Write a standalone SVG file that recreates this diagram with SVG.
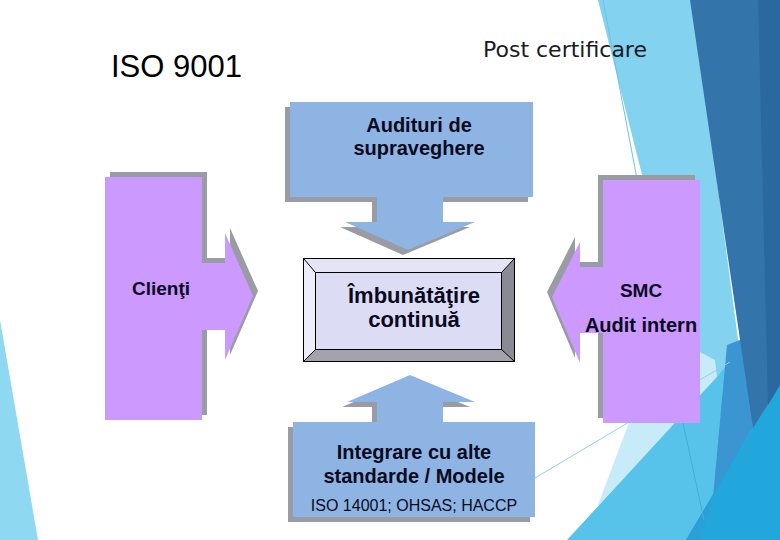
<svg xmlns="http://www.w3.org/2000/svg" width="780" height="540" viewBox="0 0 780 540">
<defs>
<style>
.lbl{font-family:"Liberation Sans",Arial,sans-serif;font-weight:bold;fill:#0a0a1e;text-anchor:middle}
.shadow{fill:#999ca4}
.blue{fill:#8eb4e3}
.purple{fill:#cc99ff}
.edge{stroke:#000;stroke-width:1;fill:none}
</style>
</defs>
<rect width="780" height="540" fill="#ffffff"/>
<g id="background">
<polygon points="0,320 38,540 0,540" fill="#8ed8f2"/>
<polygon points="598,0 693,0 750,430 705,425" fill="#82d2f0"/>
<line x1="603" y1="0" x2="660" y2="300" stroke="#6cc4e8" stroke-width="1"/>
<polygon points="598,505 628,425 700,352 715,360 717,377 599,505" fill="#c7ebf8"/>
<polygon points="567,540 717,377 735,355 780,335 780,540" fill="#57c3ea"/>
<polygon points="727,345 745,338 753,427 713,497" fill="#3a95d1"/>
<polygon points="753,427 780,385 780,540 686,540" fill="#22a7dd"/>
<polygon points="713,497 753,427 686,540 700,540" fill="#2aa0d8"/>
<polygon points="690,0 780,0 780,385 753,428" fill="#3375aa"/>
<polygon points="758,0 780,0 780,385 768,405" fill="#2a69a0"/>
<line x1="530" y1="481" x2="730" y2="362" stroke="#8fd0ea" stroke-width="1"/>
<line x1="683" y1="423" x2="704" y2="520" stroke="#45acd9" stroke-width="1"/>
</g>
<g id="title">
<text x="111" y="77" font-family="'Liberation Sans',Arial,sans-serif" font-size="31" fill="#000">ISO 9001</text>
</g>
<g id="subtitle">
<text x="483" y="57" font-family="'DejaVu Sans',Verdana,sans-serif" font-size="22" fill="#1a1a24">Post certificare</text>
</g>
<g id="connectors"></g>
<g id="node-audituri">
<path class="shadow" transform="translate(-5,5)" d="M290,102 H533 V197 H443 V222 H475 L408,250 L345,222 H377 V197 H290 Z"/>
<path class="blue" d="M290,102 H533 V197 H443 V222 H475 L408,250 L345,222 H377 V197 H290 Z"/>
<text class="lbl" x="419" y="132" font-size="20">Audituri de</text>
<text class="lbl" x="419" y="155" font-size="20">supraveghere</text>
</g>
<g id="node-imbunatatire">
<polygon points="303,258 515,258 502,272 315,272" fill="#e4e4f6"/>
<polygon points="303,258 315,272 315,350 303,362" fill="#eeeefb"/>
<polygon points="515,258 515,362 502,350 502,272" fill="#8a8a94"/>
<polygon points="303,362 515,362 502,350 315,350" fill="#a3a3ad"/>
<rect x="315" y="272" width="187" height="78" fill="#dcdcf4"/>
<rect class="edge" x="303.5" y="258.5" width="211" height="103"/>
<rect class="edge" x="315.5" y="272.5" width="186" height="77"/>
<path class="edge" stroke-width="0.8" d="M303.5,258.5 L315.5,272.5 M514.5,258.5 L501.5,272.5 M303.5,361.5 L315.5,349.5 M514.5,361.5 L501.5,349.5"/>
<text class="lbl" x="414" y="303" font-size="22">Îmbunătăţire</text>
<text class="lbl" x="414" y="327" font-size="22">continuă</text>
</g>
<g id="node-clienti">
<path class="shadow" transform="translate(5,-5)" d="M105,177 H202 V263 H225 V233 L253,296 L225,360 V330 H202 V420 H105 Z"/>
<path class="purple" d="M105,177 H202 V263 H225 V233 L253,296 L225,360 V330 H202 V420 H105 Z"/>
<text class="lbl" x="161" y="295" font-size="19">Clienţi</text>
</g>
<g id="node-smc">
<path class="shadow" transform="translate(-5,-5)" d="M700,180 V423 H603 V333 H580 V363 L552,297 L580,242 V267 H603 V180 Z"/>
<path class="purple" d="M700,180 V423 H603 V333 H580 V363 L552,297 L580,242 V267 H603 V180 Z"/>
<text class="lbl" x="641" y="297" font-size="19">SMC</text>
<text class="lbl" x="641" y="332" font-size="20">Audit intern</text>
</g>
<g id="node-integrare">
<path class="shadow" transform="translate(-5,5)" d="M293,422 H377 V402 H347 L410,375 L475,402 H443 V422 H535 V517 H293 Z"/>
<path class="blue" d="M293,422 H377 V402 H347 L410,375 L475,402 H443 V422 H535 V517 H293 Z"/>
<text class="lbl" x="414" y="459" font-size="20">Integrare cu alte</text>
<text class="lbl" x="414" y="483" font-size="20">standarde / Modele</text>
<text x="414" y="511" font-family="'Liberation Sans',Arial,sans-serif" font-size="16" fill="#0a0a1e" text-anchor="middle">ISO 14001; OHSAS; HACCP</text>
</g>
</svg>
